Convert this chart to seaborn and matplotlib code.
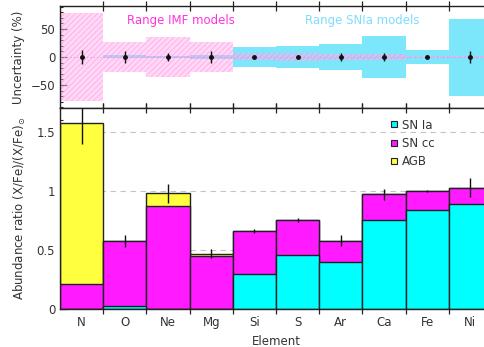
import numpy as np
import pandas as pd
import matplotlib
matplotlib.use("Agg")
import matplotlib.pyplot as plt
from matplotlib.ticker import MultipleLocator, FuncFormatter
from matplotlib.lines import Line2D
import seaborn as sns

sns.set_theme(style="white")
plt.rcParams['font.family'] = ['DejaVu Sans']
plt.rcParams['hatch.linewidth'] = 0.6

elements = ["N", "O", "Ne", "Mg", "Si", "S", "Ar", "Ca", "Fe", "Ni"]
sn_ia = [0.0, 0.025, 0.0, 0.0, 0.30, 0.46, 0.40, 0.75, 0.84, 0.89]
sn_cc = [0.21, 0.555, 0.87, 0.45, 0.36, 0.295, 0.18, 0.22, 0.16, 0.135]
agb = [1.365, 0.0, 0.11, 0.02, 0.0, 0.0, 0.0, 0.0, 0.0, 0.0]
abund_err = [0.18, 0.05, 0.08, 0.04, 0.015, 0.015, 0.045, 0.05, 0.01, 0.08]

# top panel: uncertainty ranges (%)
imf_hi = [78, 26, 35, 26, 8, 7, 6, 5, 1, 1]
imf_lo = [78, 27, 36, 27, 6, 7, 6, 5, 1, 1]
snia_hi = [0, 3, 1, 4, 18, 20, 23, 37, 12, 68]
snia_lo = [0, 2.5, 1, 3.5, 17, 20, 23, 37.5, 12, 69]
unc_err = [13, 10, 7.5, 10, 2, 2, 7.5, 7.5, 1, 10]

text_col = "#333333"
cyan = "#00ffff"
magenta = "#ff1aff"
yellow = "#ffff40"

W, H = 484, 347
fig = plt.figure(figsize=(W / 100, H / 100), dpi=100)
left = 60 / W
right = 492 / W
ax_top = fig.add_axes([left, 1 - 108 / H, right - left, (108 - 6) / H])
ax_bot = fig.add_axes([left, 1 - 309.3 / H, right - left, (309.3 - 108) / H])

df = pd.DataFrame({"Element": elements, "SNIa": sn_ia, "SNcc": sn_cc, "AGB": agb})
df["lvl1"] = df["SNIa"]
df["lvl2"] = df["SNIa"] + df["SNcc"]
df["lvl3"] = df["lvl2"] + df["AGB"]

# bottom stacked bars
sns.barplot(data=df, x="Element", y="lvl3", color=yellow, width=1.0, saturation=1,
            edgecolor="#222222", linewidth=1.0, ax=ax_bot)
sns.barplot(data=df, x="Element", y="lvl2", color=magenta, width=1.0, saturation=1,
            edgecolor="#222222", linewidth=1.0, ax=ax_bot)
sns.barplot(data=df, x="Element", y="lvl1", color=cyan, width=1.0, saturation=1,
            edgecolor="#222222", linewidth=1.0, ax=ax_bot)
xpos = np.arange(len(elements))
ax_bot.errorbar(xpos, df["lvl3"], yerr=abund_err, fmt="none", ecolor="#111111",
                elinewidth=1.0, capsize=0, zorder=5)
for yv in [0.5, 1.0, 1.5]:
    ax_bot.axhline(yv, color="#c4c4c4", lw=0.8, ls=(0, (5, 4)), zorder=0.5)

ax_bot.set_xlim(-0.5, 9.5)
ax_bot.set_ylim(0, 1.7)
ax_bot.set_xlabel("Element", fontsize=8.5, color=text_col, labelpad=4)
ax_bot.set_ylabel(r"Abundance ratio (X/Fe)/(X/Fe)$_{\odot}$", fontsize=8.5,
                  color=text_col, labelpad=6)
ax_bot.yaxis.set_major_locator(MultipleLocator(0.5))
ax_bot.yaxis.set_minor_locator(MultipleLocator(0.1))
ax_bot.yaxis.set_major_formatter(FuncFormatter(lambda v, p: "%g" % v))

# legend
order = ["SN Ia", "SN cc", "AGB"]
leg_handles = [Line2D([], [], marker="s", ls="none", markersize=5,
                      markerfacecolor=c, markeredgecolor="#222222", markeredgewidth=0.8)
               for c in [cyan, magenta, yellow]]
ax_bot.legend(leg_handles, order, loc="upper left", bbox_to_anchor=(0.735, 1.0),
              frameon=False, fontsize=8.5, handletextpad=0.2, labelspacing=0.45,
              handlelength=1.0, labelcolor=text_col)

# top panel
ax_top.bar(xpos, np.array(snia_hi) + np.array(snia_lo), bottom=-np.array(snia_lo),
           width=1.0, color="#7ce6fa", linewidth=0, zorder=1)
ax_top.bar(xpos, np.array(imf_hi) + np.array(imf_lo), bottom=-np.array(imf_lo),
           width=1.0, facecolor=(1.0, 0.70, 0.93, 0.5), edgecolor=(1.0, 0.45, 0.90, 0.45),
           hatch="//////", linewidth=0, zorder=2)
ax_top.axhline(0, color="#dd99ee", lw=0.8, ls=(0, (1, 2)), zorder=2.5)
ax_top.errorbar(xpos, np.zeros(len(xpos)), yerr=unc_err, fmt="o", color="#111111",
                markersize=2.5, elinewidth=1.0, capsize=0, zorder=5)
ax_top.text(2.3, 66, "Range IMF models", color="#ff33dd", fontsize=8.5, ha="center", va="center")
ax_top.text(6.5, 66, "Range SNIa models", color="#7fdcff", fontsize=8.5, ha="center", va="center")
ax_top.set_xlim(-0.5, 9.5)
ax_top.set_ylim(-91, 91)
ax_top.set_ylabel("Uncertainty (%)", fontsize=8.5, color=text_col, labelpad=4)
ax_top.yaxis.set_major_locator(MultipleLocator(50))
ax_top.yaxis.set_minor_locator(MultipleLocator(10))
ax_top.yaxis.set_major_formatter(FuncFormatter(lambda v, p: "%d" % v if v >= 0 else "\u2212%d" % -v))

for ax in (ax_top, ax_bot):
    ax.set_xticks(xpos)
    ax.set_xticks(np.arange(len(elements) - 1) + 0.5, minor=True)
    ax.tick_params(axis="x", which="major", length=0, labelsize=8.5, labelcolor=text_col, pad=5)
    ax.tick_params(axis="x", which="minor", direction="inout", length=7, width=0.9,
                   color="#222222", top=True, bottom=True)
    ax.tick_params(axis="y", which="major", direction="in", length=5, width=0.9,
                   color="#222222", labelsize=8.5, labelcolor=text_col, left=True)
    ax.tick_params(axis="y", which="minor", direction="in", length=2.5, width=0.8,
                   color="#222222", left=True)
    for s in ax.spines.values():
        s.set_color("#222222")
        s.set_linewidth(1.0)
ax_top.set_xticklabels([])
ax_bot.set_xticklabels(elements)
ax_top.set_xlabel("")

fig.savefig("out.png", dpi=100)
